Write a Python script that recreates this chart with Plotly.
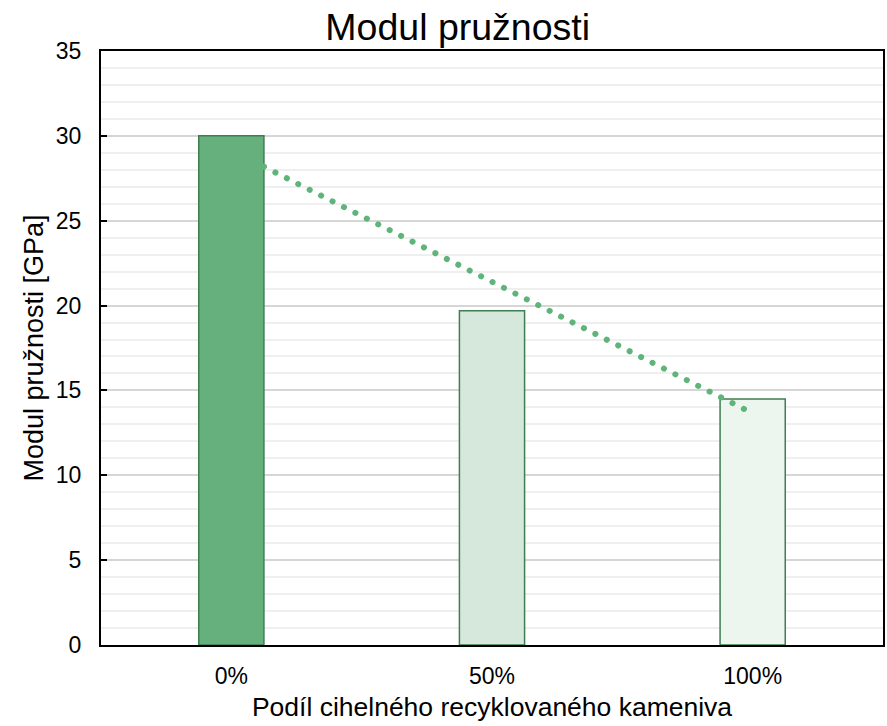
import numpy as np
import plotly.graph_objects as go

# Data
categories = ["0%", "50%", "100%"]
modulus_gpa = [30.0, 19.7, 14.5]
bar_fills = ["#66B07D", "#D5E8DB", "#EDF5EF"]
y_ticks = [0, 5, 10, 15, 20, 25, 30, 35]

FONT = "Liberation Sans, Arial, sans-serif"
OUTLINE = "#3F7D52"
TREND = "#5FB47A"
BAR_WIDTH = 0.25

x_pos = np.arange(len(categories))

# Linear trend of the measured values over the category index
slope, intercept = np.polyfit(x_pos, modulus_gpa, 1)
trend_x = np.array([x_pos[0] + BAR_WIDTH / 2, x_pos[-1]])
trend_y = slope * trend_x + intercept

fig = go.Figure()

fig.add_trace(go.Bar(
    x=x_pos,
    y=modulus_gpa,
    width=BAR_WIDTH,
    marker=dict(color=bar_fills, line=dict(color=OUTLINE, width=1.5)),
    hoverinfo="skip",
    showlegend=False,
))

fig.add_trace(go.Scatter(
    x=trend_x,
    y=trend_y,
    mode="lines",
    line=dict(color=TREND, width=6, dash="6px,7px"),
    hoverinfo="skip",
    showlegend=False,
    name="trend",
))

fig.update_layout(
    width=887,
    height=726,
    margin=dict(l=101, r=2, t=51, b=81),
    paper_bgcolor="white",
    plot_bgcolor="white",
    font=dict(family=FONT, color="#000000"),
    title=dict(
        text="Modul pružnosti",
        font=dict(size=37.5, family=FONT, color="#000000"),
        x=0.516, xref="container", xanchor="center",
        y=1 - 27 / 726, yref="container", yanchor="middle",
    ),
)

fig.update_xaxes(
    range=[-0.5, 2.5],
    tickmode="array",
    tickvals=x_pos,
    ticktext=categories,
    tickfont=dict(size=23, family=FONT),
    ticklabelstandoff=9,
    showgrid=False,
    zeroline=False,
    showline=True,
    linecolor="#000000",
    linewidth=2,
    mirror=True,
    ticks="",
    title=dict(text="Podíl cihelného recyklovaného kameniva",
               font=dict(size=26.5, family=FONT), standoff=10),
)

fig.update_yaxes(
    range=[0, 35],
    tickmode="array",
    tickvals=y_ticks,
    tickfont=dict(size=23, family=FONT),
    ticklabelstandoff=13,
    showgrid=True,
    gridcolor="#D6D6D6",
    gridwidth=1.5,
    minor=dict(dtick=1, showgrid=True, gridcolor="#EFEFEF", gridwidth=1.5),
    zeroline=False,
    showline=True,
    linecolor="#000000",
    linewidth=2,
    mirror=True,
    ticks="inside",
    ticklen=6,
    tickwidth=2,
    tickcolor="#000000",
    title=dict(text="Modul pružnosti [GPa]",
               font=dict(size=27, family=FONT), standoff=4),
)

# Round dots for the dotted trend line
post = """
var gd = document.querySelector('.js-plotly-plot');
gd.querySelectorAll('.scatterlayer .js-line').forEach(function (p) {
    p.style.strokeLinecap = 'round';
    p.style.strokeDasharray = '0.1px 12.7px';
});
"""

fig.write_html("out.html", post_script=post)
